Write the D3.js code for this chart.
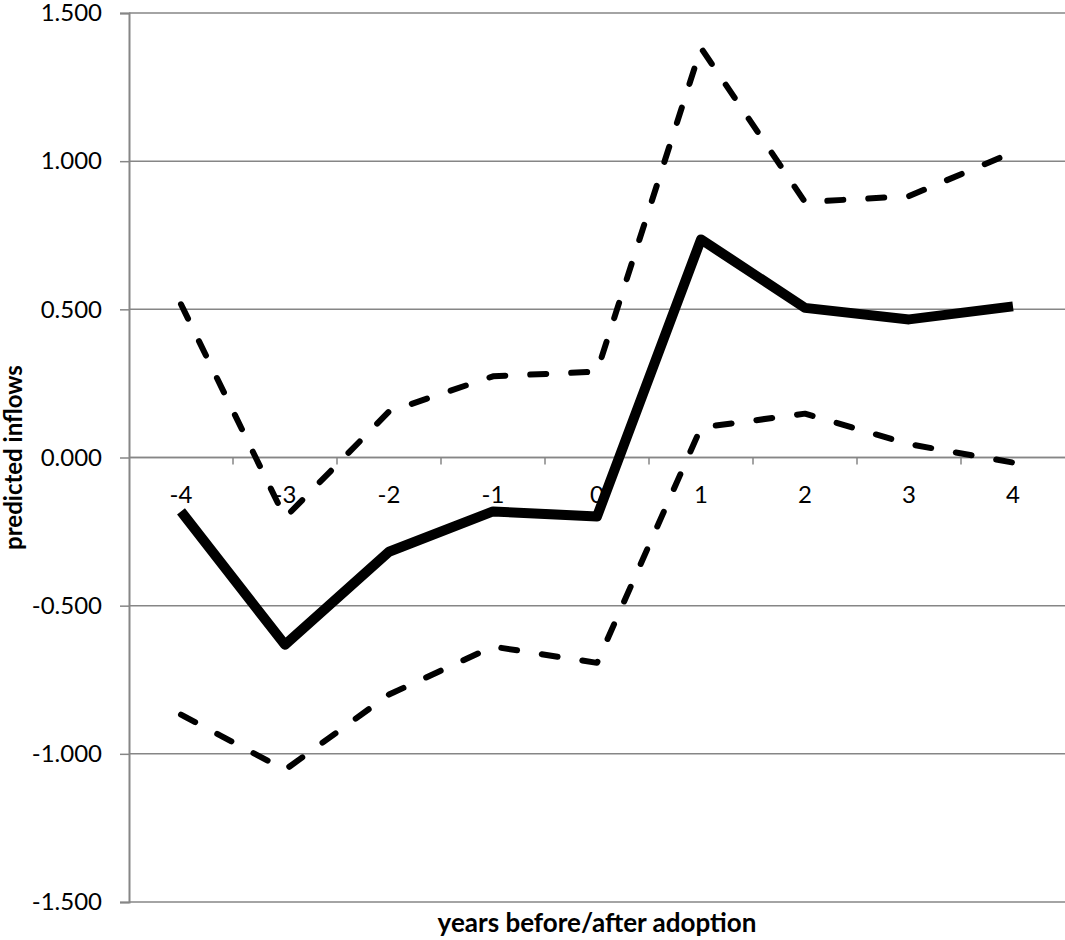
<!DOCTYPE html>
<html>
<head>
<meta charset="utf-8">
<script src="https://cdn.jsdelivr.net/npm/d3@7"></script>
<style>
  body { margin: 0; background: #fff; }
  svg text { font-family: Lato, "Open Sans", sans-serif; fill: #000; }
</style>
</head>
<body>
<svg id="chart" width="1065" height="940"></svg>
<script>
// years relative to adoption
const years = ["-4", "-3", "-2", "-1", "0", "1", "2", "3", "4"];
// point estimate and confidence bounds
const predicted = [-0.182, -0.632, -0.318, -0.182, -0.199, 0.736, 0.505, 0.466, 0.51];
const upperBound = [0.517, -0.203, 0.155, 0.274, 0.29, 1.382, 0.862, 0.882, 1.03];
const lowerBound = [-0.868, -1.054, -0.80, -0.638, -0.693, 0.101, 0.148, 0.045, -0.017];
const yTicks = [-1.5, -1.0, -0.5, 0, 0.5, 1.0, 1.5];

const svg = d3.select("#chart");
const plotLeft = 129, plotRight = 1065, plotTop = 13, plotBottom = 902;

const x = d3.scaleBand().domain(years).range([plotLeft, plotRight]).padding(0);
const y = d3.scaleLinear().domain([-1.5, 1.5]).range([plotBottom, plotTop]);

// excel style labels use a plain hyphen for negatives
const fmt = d => d3.format(".3f")(d).replace("\u2212", "-");

// horizontal gridlines
svg.append("g")
  .selectAll("line")
  .data(yTicks)
  .join("line")
    .attr("x1", plotLeft).attr("x2", plotRight)
    .attr("y1", d => y(d)).attr("y2", d => y(d))
    .attr("stroke", "#868686")
    .attr("stroke-width", 1.5);

// y axis
const yAxis = svg.append("g")
  .attr("transform", `translate(${plotLeft},0)`)
  .call(d3.axisLeft(y).tickValues(yTicks).tickFormat(fmt).tickSize(9).tickPadding(18));
yAxis.select(".domain").attr("stroke", "#868686").attr("stroke-width", 2);
yAxis.selectAll(".tick line").attr("stroke", "#868686").attr("stroke-width", 1.5);
yAxis.selectAll(".tick text").attr("font-size", 24).attr("font-family", "Lato, sans-serif");

// x axis sits on the zero line, ticks at category boundaries
const xAxis = svg.append("g").attr("transform", `translate(0,${y(0)})`);
xAxis.append("line")
  .attr("x1", plotLeft).attr("x2", plotRight)
  .attr("stroke", "#868686").attr("stroke-width", 1.5);
xAxis.selectAll(".bound")
  .data(years.slice(1))
  .join("line")
    .attr("class", "bound")
    .attr("x1", d => x(d)).attr("x2", d => x(d))
    .attr("y1", 0).attr("y2", 7)
    .attr("stroke", "#868686").attr("stroke-width", 1.5);
xAxis.selectAll("text")
  .data(years)
  .join("text")
    .attr("x", d => x(d) + x.bandwidth() / 2)
    .attr("y", 45)
    .attr("text-anchor", "middle")
    .attr("font-size", 24)
    .text(d => d);

const line = d3.line()
  .x((d, i) => x(years[i]) + x.bandwidth() / 2)
  .y(d => y(d));

// confidence bounds
[upperBound, lowerBound].forEach(series => {
  svg.append("path")
    .datum(series)
    .attr("d", line)
    .attr("fill", "none")
    .attr("stroke", "#000")
    .attr("stroke-width", 6)
    .attr("stroke-dasharray", "16,25")
    .attr("stroke-linecap", "round")
    .attr("stroke-linejoin", "round");
});

// estimate
svg.append("path")
  .datum(predicted)
  .attr("d", line)
  .attr("fill", "none")
  .attr("stroke", "#000")
  .attr("stroke-width", 10)
  .attr("stroke-linejoin", "round");

// axis titles
svg.append("text")
  .attr("x", (plotLeft + plotRight) / 2)
  .attr("y", 932)
  .attr("text-anchor", "middle")
  .attr("font-size", 26)
  .attr("font-weight", "bold")
  .text("years before/after adoption");

svg.append("text")
  .attr("transform", `translate(22,${(plotTop + plotBottom) / 2}) rotate(-90)`)
  .attr("text-anchor", "middle")
  .attr("font-size", 24)
  .attr("font-weight", "bold")
  .text("predicted inflows");
</script>
</body>
</html>
